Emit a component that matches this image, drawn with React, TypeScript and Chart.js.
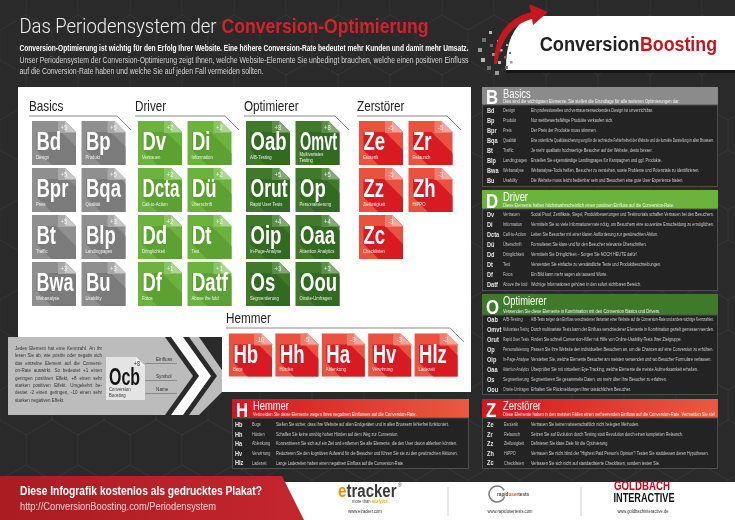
import React, { useEffect, useRef } from "react";
import { Chart, registerables } from "chart.js";

Chart.register(...registerables);

const FONT = "'Liberation Sans', Roboto, Arial, sans-serif";
const LIGHT_FONT = "Roboto, 'Liberation Sans', Arial, sans-serif";

// ---------------- DATA ----------------
const groupNames = ["Basics", "Driver", "Optimierer", "Zerstörer", "Hemmer"];
const groupLetters = ["B", "D", "O", "Z", "H"];
const groupDescriptions = [
  "Dies sind die wichtigsten Elemente. Sie stellen die Grundlage für alle weiteren Optimierungen dar.",
  "Diese Elemente haben höchstwahrscheinlich einen positiven Einfluss auf die Conversion-Rate.",
  "Verwenden Sie diese Elemente in Kombination mit den Conversion Basics und Drivers.",
  "Diese Elemente haben in den meisten Fällen einen verheerenden Einfluss auf die Conversion-Rate. Vermeiden Sie sie!",
  "Vermeiden Sie diese Elemente wegen ihres negativen Einflusses auf die Conversion-Rate.",
];

const basicsSymbols = ["Bd", "Bp", "Bpr", "Bqa", "Bt", "Blp", "Bwa", "Bu"];
const basicsNames = ["Design", "Produkt", "Preis", "Qualität", "Traffic", "Landingpages", "Webanalyse", "Usability"];
const basicsImpact = [5, 5, 5, 5, 5, 3, 3, 3];
const basicsInfo = [
  "Ein professionelles und vertrauenerweckendes Design ist unverzichtbar.",
  "Nur wettbewerbsfähige Produkte verkaufen sich.",
  "Der Preis der Produkte muss stimmen.",
  "Eine ordentliche Qualitätssicherung sorgt für die technische Fehlerfreiheit der Website und die korrekte Darstellung in allen Browsern.",
  "Je mehr qualitativ hochwertige Besucher auf der Website, desto besser.",
  "Erstellen Sie eigenständige Landingpages für Kampagnen und ggf. Produkte.",
  "Webanalyse-Tools helfen, Besucher zu verstehen, sowie Probleme und Potenziale zu identifizieren.",
  "Die Website muss leicht bedienbar sein und Besuchern eine gute User Experience bieten.",
];

const driverSymbols = ["Dv", "Di", "Dcta", "Dü", "Dd", "Dt", "Df", "Datf"];
const driverNames = ["Vertrauen", "Information", "Call-to-Action", "Überschrift", "Dringlichkeit", "Text", "Fotos", "Above the fold"];
const driverImpact = [2, 2, 2, 2, 2, 2, 1, 1];
const driverInfo = [
  "Social Proof, Zertifikate, Siegel, Produktbewertungen und Testimonials schaffen Vertrauen bei den Besuchern.",
  "Vermitteln Sie so viele Informationen wie nötig, um Besuchern eine souveräne Entscheidung zu ermöglichen.",
  "Leiten Sie Besucher mit einer klaren Aufforderung zur gewünschten Aktion.",
  "Formulieren Sie klare und für den Besucher relevante Überschriften.",
  "Vermitteln Sie Dringlichkeit – Sorgen Sie NOCH HEUTE dafür!",
  "Verwenden Sie einfache zu verständliche Texte und Produktbeschreibungen.",
  "Ein Bild kann mehr sagen als tausend Worte.",
  "Wichtige Informationen gehören in den sofort sichtbaren Bereich.",
];

const optimiererSymbols = ["Oab", "Omvt", "Orut", "Op", "Oip", "Oaa", "Os", "Oou"];
const optimiererNames = ["A/B-Testing", "Multivariates\nTesting", "Rapid User Tests", "Personalisierung", "In-Page-Analyse", "Attention Analytics", "Segmentierung", "Onsite-Umfragen"];
const optimiererImpact = [8, 8, 5, 5, 4, 4, 3, 3];
const optimiererInfo = [
  "A/B-Tests zeigen den Einfluss verschiedener Varianten einer Website auf die Conversion-Rate und andere wichtige Kennzahlen.",
  "Durch multivariate Tests kann der Einfluss verschiedener Elemente in Kombination gezielt gemessen werden.",
  "Finden Sie schnell Conversion-Killer mit Hilfe von Online-Usability-Tests Ihrer Zielgruppe.",
  "Passen Sie Ihre Website den individuellen Besuchern an, um die Chancen auf eine Conversion zu erhöhen.",
  "Verstehen Sie, welche Elemente Besucher am meisten verwenden und wo Besucher Formulare verlassen.",
  "Überprüfen Sie mit virtuellem Eye-Tracking, welche Elemente die meiste Aufmerksamkeit erhalten.",
  "Segmentieren Sie gesammelte Daten, um mehr über Ihre Besucher zu erfahren.",
  "Erhalten Sie Rückmeldungen Ihrer tatsächlichen Besucher.",
];

const zerstoererSymbols = ["Ze", "Zr", "Zz", "Zh", "Zc"];
const zerstoererNames = ["Esoterik", "Relaunch", "Ziellosigkeit", "HiPPO", "Checklisten"];
const zerstoererImpact = [-5, -5, -5, -3, -3];
const zerstoererInfo = [
  "Vertrauen Sie keinen wissenschaftlich nicht belegten Methoden.",
  "Setzen Sie auf Evolution durch Testing statt Revolution durch einen kompletten Relaunch.",
  "Definieren Sie klare Ziele für die Optimierung.",
  "Vertrauen Sie nicht blind der \"Highest Paid Person's Opinion\"! Testen Sie stattdessen deren Hypothesen.",
  "Verlassen Sie sich nicht auf standardisierte Checklisten, sondern testen Sie.",
];

const hemmerSymbols = ["Hb", "Hh", "Ha", "Hv", "Hlz"];
const hemmerNames = ["Bugs", "Hürden", "Ablenkung", "Verwirrung", "Ladezeit"];
const hemmerImpact = [-10, -5, -3, -3, -2];
const hemmerInfo = [
  "Stellen Sie sicher, dass Ihre Website auf allen Endgeräten und in allen Browsern fehlerfrei funktioniert.",
  "Schaffen Sie keine unnötig hohen Hürden auf dem Weg zur Conversion.",
  "Konzentrieren Sie sich auf ein Ziel und entfernen Sie alle Elemente, die den User davon ablenken könnten.",
  "Reduzieren Sie den kognitiven Aufwand für die Besucher und führen Sie sie zu den gewünschten Aktionen.",
  "Lange Ladezeiten haben einen negativen Einfluss auf die Conversion-Rate.",
];

const titleWhite = "Das Periodensystem der";
const titleRed = "Conversion-Optimierung";
const introBold = "Conversion-Optimierung ist wichtig für den Erfolg Ihrer Website. Eine höhere Conversion-Rate bedeutet mehr Kunden und damit mehr Umsatz.";
const introLine2 = "Unser Periodensystem der Conversion-Optimierung zeigt Ihnen, welche Website-Elemente Sie unbedingt brauchen, welche einen positiven Einfluss";
const introLine3 = "auf die Conversion-Rate haben und welche Sie auf jeden Fall vermeiden sollten.";

const legendLines = [
  "Jedes Element hat eine Kennzahl. An ihr",
  "lesen Sie ab, wie positiv oder negativ sich",
  "das einzelne Element auf die Conversi-",
  "on-Rate auswirkt. So bedeutet +1 einen",
  "geringen positiven Effekt, +8 einen sehr",
  "starken positiven Effekt. Umgekehrt be-",
  "deutet -2 einen geringen, -10 einen sehr",
  "starken negativen Effekt.",
];
const legendSymbol = "Ocb";
const legendName = ["Conversion", "Boosting"];
const legendImpact = 8;
const legendLabels = ["Einfluss", "Symbol", "Name"];

const footerHeadline = "Diese Infografik kostenlos als gedrucktes Plakat?";
const footerUrl = "http://ConversionBoosting.com/Periodensystem";

// ---------------- LAYOUT / STYLE ----------------
const BG = "#2a2a2a";
const PAL = [
  { base: "#8f8f8f", dark: "#7b7b7b", box: "#a8a8a8", fold: "#c8c8c8", head: ["#8b8b8b", "#8b8b8b"] },
  { base: "#6cb33e", dark: "#5ca131", box: "#89c462", fold: "#add78f", head: ["#6cb33e", "#6cb33e"] },
  { base: "#40792a", dark: "#336a22", box: "#5b8f49", fold: "#82aa72", head: ["#3f7a2a", "#3f7a2a"] },
  { base: "#ea513e", dark: "#d81a22", box: "#f07b6b", fold: "#f6a59a", head: ["#d2171f", "#ea5a40"] },
  { base: "#ea513e", dark: "#d81a22", box: "#f07b6b", fold: "#f6a59a", head: ["#d2171f", "#ea5a40"] },
];
const GRID_X = [32, 138, 246, 359];
const COL_PITCH = 49.5;
const ROW_Y0 = 121;
const ROW_PITCH = 47;
const TILE = 44;
const H_X0 = 229;
const H_PITCH = 46.4;
const H_Y = 333.5;
const H_TILE = 43;

const GROUP_LABEL = [
  { x: 29, y: 111, x1: 117, ly: 116 },
  { x: 135, y: 111, x1: 225, ly: 116 },
  { x: 244, y: 111, x1: 335, ly: 116 },
  { x: 357, y: 111, x1: 447, ly: 116 },
  { x: 226, y: 323, x1: 450, ly: 328 },
];

const PANELS = [
  { x: 482, y: 87, w: 236, hh: 18, r0: 111, p: 10, bottom: 187, sym: 5, nm: 21, ds: 49 },
  { x: 482, y: 190, w: 236, hh: 19, r0: 215, p: 10, bottom: 291, sym: 5, nm: 21, ds: 49 },
  { x: 482, y: 294, w: 236, hh: 21, r0: 320, p: 10, bottom: 395, sym: 5, nm: 21, ds: 49 },
  { x: 482, y: 399, w: 236, hh: 19, r0: 425, p: 9.6, bottom: 469, sym: 5, nm: 22, ds: 49 },
  { x: 232, y: 399, w: 237, hh: 19, r0: 425, p: 9.6, bottom: 469, sym: 3, nm: 20, ds: 44 },
];

const groupSymbols = [basicsSymbols, driverSymbols, optimiererSymbols, zerstoererSymbols, hemmerSymbols];
const groupTileNames = [basicsNames, driverNames, optimiererNames, zerstoererNames, hemmerNames];
const groupImpacts = [basicsImpact, driverImpact, optimiererImpact, zerstoererImpact, hemmerImpact];
const groupInfos = [basicsInfo, driverInfo, optimiererInfo, zerstoererInfo, hemmerInfo];

// ---------------- HELPERS ----------------
type TOpts = { w?: string; sx?: number; align?: "left" | "center" | "right"; fit?: number; max?: number; base?: CanvasTextBaseline; fam?: string };
function txt(ctx: CanvasRenderingContext2D, s: string, x: number, y: number, size: number, color: string, o: TOpts = {}) {
  ctx.save();
  ctx.font = `${o.w || "normal"} ${size}px ${o.fam || FONT}`;
  ctx.fillStyle = color;
  ctx.textBaseline = o.base || "alphabetic";
  ctx.textAlign = "left";
  const w = ctx.measureText(s).width || 1;
  let sx = o.sx ?? 0.82;
  if (o.fit) sx = o.fit / w;
  if (o.max && w * sx > o.max) sx = o.max / w;
  const ww = w * sx;
  let dx = 0;
  if (o.align === "center") dx = -ww / 2;
  else if (o.align === "right") dx = -ww;
  ctx.translate(x + dx, y);
  ctx.scale(sx, 1);
  ctx.fillText(s, 0, 0);
  ctx.restore();
  return ww;
}

function justify(ctx: CanvasRenderingContext2D, s: string, x: number, y: number, width: number, size: number, color: string, weight = "normal", sx = 0.82) {
  const words = s.split(" ");
  ctx.save();
  ctx.font = `${weight} ${size}px ${FONT}`;
  const ws = words.map((wd) => ctx.measureText(wd).width * sx);
  ctx.restore();
  const total = ws.reduce((a, b) => a + b, 0);
  const gap = words.length > 1 ? (width - total) / (words.length - 1) : 0;
  let cx = x;
  words.forEach((wd, i) => {
    txt(ctx, wd, cx, y, size, color, { w: weight, sx });
    cx += ws[i] + gap;
  });
}

function poly(ctx: CanvasRenderingContext2D, pts: number[][], fill: string | CanvasGradient) {
  ctx.beginPath();
  pts.forEach((p, i) => (i ? ctx.lineTo(p[0], p[1]) : ctx.moveTo(p[0], p[1])));
  ctx.closePath();
  ctx.fillStyle = fill;
  ctx.fill();
}

function line(ctx: CanvasRenderingContext2D, pts: number[][], color: string, lw = 1) {
  ctx.beginPath();
  pts.forEach((p, i) => (i ? ctx.lineTo(p[0], p[1]) : ctx.moveTo(p[0], p[1])));
  ctx.strokeStyle = color;
  ctx.lineWidth = lw;
  ctx.stroke();
}

function drawTile(ctx: CanvasRenderingContext2D, x: number, y: number, w: number, h: number, sym: string, name: string, impact: number, pal: any) {
  const c = w * 0.25;
  ctx.save();
  ctx.beginPath();
  ctx.moveTo(x, y);
  ctx.lineTo(x + w - c, y);
  ctx.lineTo(x + w, y + c);
  ctx.lineTo(x + w, y + h);
  ctx.lineTo(x, y + h);
  ctx.closePath();
  ctx.fillStyle = pal.base;
  ctx.fill();
  ctx.clip();
  ctx.font = `bold 25px ${FONT}`;
  const mw = ctx.measureText(sym).width;
  const sx = Math.min(0.74, (w - 7) / mw);
  const sw = mw * sx;
  const sx0 = x + 4.5;
  const sx1 = sx0 + sw;
  const sy0 = y + 11;
  const sy1 = y + 29;
  const L = 70;
  poly(ctx, [[sx0, sy0], [sx1, sy0], [sx1 + L, sy0 + L], [sx1 + L, sy1 + L], [sx0 + L, sy1 + L], [sx0, sy1]], pal.dark);
  ctx.fillStyle = pal.box;
  ctx.fillRect(x + w - 18, y, 18, 12);
  ctx.restore();
  poly(ctx, [[x + w - c, y], [x + w, y + c], [x + w - c, y + c]], pal.fold);
  txt(ctx, sym, sx0, y + 29, 25, "#ffffff", { w: "bold", sx });
  const nl = name.split("\n");
  nl.forEach((n, i) => txt(ctx, n, x + 4, y + (nl.length > 1 ? 35 + i * 5.5 : 37.5), 5, "rgba(255,255,255,0.9)", { sx: 0.85, max: w - 6 }));
  txt(ctx, (impact > 0 ? "+" : "") + impact, x + w - 12, y + 8.5, 7, "rgba(255,255,255,0.85)", { align: "center", sx: 0.85 });
}

// ---------------- PAGE DRAWING ----------------
function drawPage(ctx: CanvasRenderingContext2D) {
  ctx.save();
  ctx.fillStyle = BG;
  ctx.fillRect(0, 0, 735, 520);

  // faint hex pattern
  ctx.strokeStyle = "rgba(255,255,255,0.03)";
  ctx.lineWidth = 1;
  for (let r = 0; r < 14; r++) {
    for (let q = 0; q < 18; q++) {
      const cx = q * 52 + (r % 2) * 26;
      const cy = r * 45;
      ctx.beginPath();
      for (let k = 0; k < 6; k++) {
        const a = Math.PI / 6 + (k * Math.PI) / 3;
        const px = cx + 30 * Math.cos(a);
        const py = cy + 30 * Math.sin(a);
        if (k) ctx.lineTo(px, py);
        else ctx.moveTo(px, py);
      }
      ctx.closePath();
      ctx.stroke();
    }
  }

  // title
  txt(ctx, titleWhite, 19.5, 33, 21, "#f2f2f2", { fit: 197, w: "300", fam: LIGHT_FONT });
  txt(ctx, titleRed, 221.5, 33, 21, "#d1232a", { w: "bold", fit: 207 });
  txt(ctx, introBold, 19.5, 51, 8.6, "#ffffff", { w: "bold", fit: 449 });
  justify(ctx, introLine2, 19.5, 62.5, 449, 8.6, "#d6d6d6", "normal", 0.8);
  txt(ctx, introLine3, 19.5, 74, 8.6, "#d6d6d6", { fit: 244 });

  // logo
  ctx.beginPath();
  ctx.moveTo(530, 16);
  ctx.lineTo(735, 16);
  ctx.lineTo(735, 70);
  ctx.lineTo(506, 70);
  ctx.quadraticCurveTo(505, 30, 530, 16);
  ctx.closePath();
  ctx.fillStyle = "#ffffff";
  ctx.fill();
  ctx.fillStyle = "#161616";
  ctx.fillRect(506, 70, 229, 3);
  const squares = [[482, 38, 4], [478, 48, 4], [481, 58, 4], [487, 66, 4], [495, 71, 4], [489, 31, 3], [490, 44, 3], [492, 53, 3], [498, 61, 3], [505, 66, 3], [497, 40, 2.5], [500, 49, 2.5], [504, 56, 2.5], [510, 61, 2.5], [506, 44, 2], [509, 52, 2]];
  squares.forEach(([sx, sy, s], i) => {
    ctx.fillStyle = i % 3 === 0 ? "#6f6f6f" : i % 3 === 1 ? "#9a9a9a" : "#b9b9b9";
    ctx.fillRect(sx, sy, s, s);
  });
  ctx.beginPath();
  ctx.moveTo(494, 64);
  ctx.quadraticCurveTo(494, 22, 531, 12);
  ctx.lineTo(529, 4);
  ctx.lineTo(548, 12);
  ctx.lineTo(533, 25);
  ctx.lineTo(532, 19);
  ctx.quadraticCurveTo(503, 26, 497, 64);
  ctx.closePath();
  ctx.fillStyle = "#c8161e";
  ctx.fill();
  txt(ctx, "Conversion", 539.7, 51, 19.5, "#222222", { w: "bold", fit: 100 });
  txt(ctx, "Boosting", 640, 51, 19.5, "#c4161c", { w: "bold", fit: 77 });

  // white main panel
  poly(ctx, [[18, 87], [471, 87], [471, 392], [222, 392], [222, 337], [18, 337]], "#ffffff");

  // group labels + lines
  GROUP_LABEL.forEach((g, i) => {
    txt(ctx, groupNames[i], g.x, g.y, 15, "#222222", { sx: 0.78 });
    line(ctx, [[g.x, g.ly], [g.x1, g.ly], [g.x1 + 14, g.ly + 14]], "#8a8a8a", 1);
  });

  // legend
  poly(ctx, [[8, 337], [165, 337], [193, 376], [165, 415], [8, 415]], "#bcbcbc");
  poly(ctx, [[171, 337], [183, 337], [211, 376], [183, 415], [171, 415], [199, 376]], "#ffffff");
  poly(ctx, [[189, 337], [199, 337], [222, 370], [222, 392], [199, 415], [189, 415], [217, 376]], "#bcbcbc");
  legendLines.forEach((l, i) => {
    const y = 350 + i * 7.4;
    if (i < legendLines.length - 1) justify(ctx, l, 15, y, 87, 5.3, "#333333", "normal", 0.85);
    else txt(ctx, l, 15, y, 5.3, "#333333", { sx: 0.85 });
  });
  poly(ctx, [[106, 357], [136, 357], [145, 366], [145, 400], [106, 400]], "#e4e4e4");
  poly(ctx, [[136, 357], [145, 366], [136, 366]], "#f4f4f4");
  txt(ctx, "+" + legendImpact, 137, 366, 6.5, "#333333", { align: "center", sx: 0.85 });
  txt(ctx, legendSymbol, 109, 385, 24, "#151515", { w: "bold", fit: 31 });
  legendName.forEach((n, i) => txt(ctx, n, 109, 391 + i * 6, 5, "#333333", { sx: 0.85 }));
  const ly = [361, 378, 391];
  legendLabels.forEach((l, i) => {
    txt(ctx, l, 156, ly[i], 5.5, "#333333", { sx: 0.85 });
    line(ctx, [[145, ly[i] + 2.5], [177, ly[i] + 2.5]], "#666666", 0.6);
  });

  // right/bottom panels
  PANELS.forEach((p, g) => {
    const grad = ctx.createLinearGradient(p.x, 0, p.x + p.w, 0);
    grad.addColorStop(0, PAL[g].head[0]);
    grad.addColorStop(1, PAL[g].head[1]);
    ctx.fillStyle = grad;
    ctx.fillRect(p.x, p.y, p.w, p.hh);
    ctx.fillStyle = "#232323";
    ctx.fillRect(p.x, p.y + p.hh, p.w, p.bottom - p.y - p.hh);
    ctx.strokeStyle = "#4e4e4e";
    ctx.lineWidth = 1;
    ctx.strokeRect(p.x + 0.5, p.y + p.hh, p.w - 1, p.bottom - p.y - p.hh - 0.5);
    txt(ctx, groupLetters[g], p.x + 4, p.y + p.hh - 1.5, 21, "#ffffff", { w: "bold", sx: 0.8 });
    txt(ctx, groupNames[g], p.x + 21, p.y + 10.5, 12, "#ffffff", { sx: 0.78 });
    txt(ctx, groupDescriptions[g], p.x + 21, p.y + p.hh - 2.5, 4.8, "rgba(255,255,255,0.92)", { sx: 0.85, max: p.w - 24 });
    groupSymbols[g].forEach((s, i) => {
      const y = p.r0 + i * p.p;
      txt(ctx, s, p.x + p.sym, y, 7, "#e6e6e6", { w: "bold", sx: 0.8, base: "middle" });
      const nm = groupTileNames[g][i].replace("\n", " ");
      txt(ctx, nm, p.x + p.nm, y, 4.5, "#c4c4c4", { sx: 0.85, base: "middle", max: p.ds - p.nm - 2 });
      txt(ctx, groupInfos[g][i], p.x + p.ds, y, 4.5, "#cfcfcf", { sx: 0.85, base: "middle", max: p.w - p.ds - 4 });
    });
  });

  // footer
  ctx.fillStyle = "#ffffff";
  ctx.fillRect(270, 482, 465, 38);
  const fg = ctx.createLinearGradient(0, 0, 300, 0);
  fg.addColorStop(0, "#a91c22");
  fg.addColorStop(1, "#c4262c");
  poly(ctx, [[0, 476], [282, 476], [304, 520], [0, 520]], fg);
  txt(ctx, footerHeadline, 20, 495, 12, "#ffffff", { w: "bold", fit: 242 });
  txt(ctx, footerUrl, 20, 510, 10.5, "#f1d0d0", { fit: 196 });

  // etracker
  const ew = txt(ctx, "e", 338, 497, 18, "#f29100", { w: "bold", sx: 0.85 });
  txt(ctx, "tracker", 338 + ew, 497, 18, "#3a3a3a", { w: "bold", fit: 50 });
  txt(ctx, "®", 398, 487, 5, "#3a3a3a", { sx: 1 });
  const mw = txt(ctx, "more than ", 352, 503, 4.6, "#444444", { sx: 0.9 });
  txt(ctx, "analytics.", 352 + mw, 503, 4.6, "#f29100", { sx: 0.9 });
  txt(ctx, "www.etracker.com", 365, 513, 4.6, "#333333", { align: "center", sx: 0.9 });
  line(ctx, [[448, 487], [448, 516]], "#d0d0d0", 1);
  line(ctx, [[581, 487], [581, 516]], "#d0d0d0", 1);
  // rapidusertests
  ctx.beginPath();
  ctx.arc(497, 494, 8, 0.3, Math.PI * 1.85);
  ctx.strokeStyle = "#7d7d7d";
  ctx.lineWidth = 1.6;
  ctx.stroke();
  const rw = txt(ctx, "rapid", 497, 496, 5.5, "#444444", { w: "bold", sx: 0.85 });
  const uw = txt(ctx, "user", 497 + rw, 496, 5.5, "#e8531f", { w: "bold", sx: 0.85 });
  txt(ctx, "tests", 497 + rw + uw, 496, 5.5, "#444444", { w: "bold", sx: 0.85 });
  txt(ctx, "www.rapidusertests.com", 510, 513, 4.6, "#333333", { align: "center", sx: 0.9 });
  // goldbach
  txt(ctx, "GOLDBACH", 642, 490, 13, "#d0021b", { w: "bold", fit: 56, align: "center" });
  txt(ctx, "INTERACTIVE", 644, 502, 13, "#111111", { w: "bold", fit: 61, align: "center" });
  txt(ctx, "www.goldbachinteractive.de", 643, 513, 4.6, "#333333", { align: "center", sx: 0.9 });
  ctx.restore();
}

function drawTiles(chart: any) {
  const ctx: CanvasRenderingContext2D = chart.ctx;
  const xs = chart.scales.x;
  const ys = chart.scales.y;
  chart.data.datasets.forEach((ds: any, d: number) => {
    const meta = chart.getDatasetMeta(d);
    meta.data.forEach((el: any, i: number) => {
      const pt = ds.data[i];
      const w = xs.getPixelForValue(pt.x + ds.tileSize) - el.x;
      const h = ys.getPixelForValue(pt.y + ds.tileSize) - el.y;
      drawTile(ctx, el.x, el.y, w, h, ds.symbols[i], ds.names[i], ds.impacts[i], PAL[d]);
    });
  });
}

const pagePlugin = {
  id: "periodicPage",
  beforeDatasetsDraw(chart: any) {
    drawPage(chart.ctx);
  },
  afterDatasetsDraw(chart: any) {
    drawTiles(chart);
  },
};

function buildDatasets() {
  const sets: any[] = [];
  for (let g = 0; g < 4; g++) {
    sets.push({
      label: groupNames[g],
      symbols: groupSymbols[g],
      names: groupTileNames[g],
      impacts: groupImpacts[g],
      tileSize: TILE,
      data: groupSymbols[g].map((_, i) => ({ x: GRID_X[g] + (i % 2) * COL_PITCH, y: ROW_Y0 + Math.floor(i / 2) * ROW_PITCH })),
      pointRadius: 0,
    });
  }
  sets.push({
    label: groupNames[4],
    symbols: hemmerSymbols,
    names: hemmerNames,
    impacts: hemmerImpact,
    tileSize: H_TILE,
    data: hemmerSymbols.map((_, i) => ({ x: H_X0 + i * H_PITCH, y: H_Y })),
    pointRadius: 0,
  });
  return sets;
}

export default function App() {
  const ref = useRef<HTMLCanvasElement | null>(null);
  useEffect(() => {
    if (!ref.current) return;
    const chart = new Chart(ref.current, {
      type: "scatter",
      data: { datasets: buildDatasets() },
      options: {
        responsive: true,
        maintainAspectRatio: false,
        animation: false,
        events: [],
        layout: { padding: 0 },
        plugins: { legend: { display: false }, tooltip: { enabled: false } },
        scales: {
          x: { type: "linear", min: 0, max: 735, display: false },
          y: { type: "linear", min: 0, max: 520, reverse: true, display: false },
        },
      },
      plugins: [pagePlugin],
    } as any);
    return () => chart.destroy();
  }, []);
  return (
    <div style={{ position: "fixed", left: 0, top: 0, width: 735, height: 520, background: BG }}>
      <canvas ref={ref} />
    </div>
  );
}
